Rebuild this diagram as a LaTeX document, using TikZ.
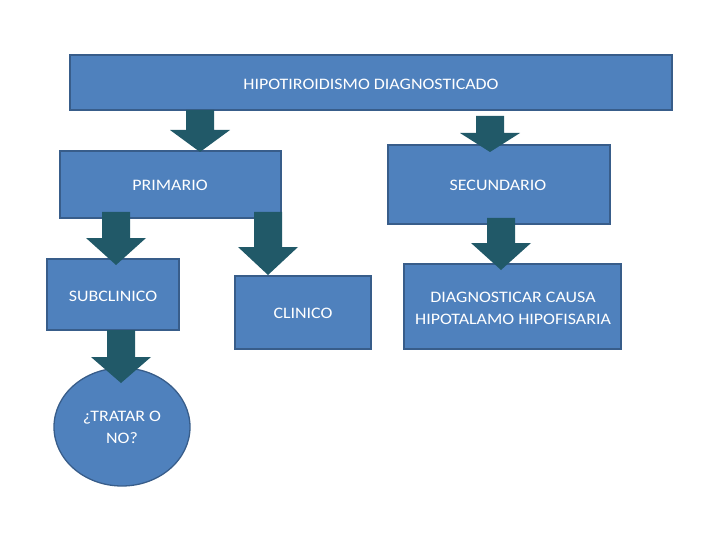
\documentclass[tikz,border=0pt]{standalone}
\usepackage{fontspec}
\setmainfont[FakeStretch=1.12]{Carlito}
\usetikzlibrary{shapes.geometric}
\definecolor{boxfill}{HTML}{4F81BD}
\definecolor{boxline}{HTML}{385D8A}
\definecolor{arrowc}{HTML}{215968}
\newcommand\blockarrow[4]{%
  \fill[arrowc] (#1-14,#2) -- (#1+14,#2) -- (#1+14,#3) -- (#1+30,#3) -- (#1,#4) -- (#1-30,#3) -- (#1-14,#3) -- cycle;}
\begin{document}
\begin{tikzpicture}[x=1pt,y=-1pt,
  box/.style={draw=boxline,line width=1.3pt,fill=boxfill},
  lbl/.style={text=white,font=\fontsize{16}{22}\selectfont,align=center}]
\useasboundingbox (0,0) rectangle (720,540);
% boxes
\draw[box] (70,55) rectangle (672,110);
\node[lbl] (t1) at (371,84) {HIPOTIROIDISMO DIAGNOSTICADO};
\draw[box] (60,151) rectangle (281,218);
\node[lbl] (t2) at (170,185) {PRIMARIO};
\draw[box] (388,145) rectangle (610,224);
\node[lbl] (t3) at (498,185) {SECUNDARIO};
\draw[box] (47,259) rectangle (179,330);
\node[lbl] (t4) at (113,296) {SUBCLINICO};
\draw[box] (235,276) rectangle (371,349);
\node[lbl] (t5) at (303,313) {CLINICO};
\draw[box] (404,264) rectangle (621,349);
\node[lbl] (t6) at (513,308) {DIAGNOSTICAR CAUSA\\HIPOTALAMO HIPOFISARIA};
\draw[box] (122,427) ellipse [x radius=68, y radius=59];
\node[lbl] (t7) at (122,427) {¿TRATAR O\\NO?};
% block arrows
\blockarrow{200}{110}{130}{152}
\blockarrow{490}{116}{133}{152}
\blockarrow{116}{212}{238}{265}
\blockarrow{268}{212}{247}{275}
\blockarrow{501}{218}{243}{270}
\blockarrow{121}{330}{357}{383}
\end{tikzpicture}
\end{document}
